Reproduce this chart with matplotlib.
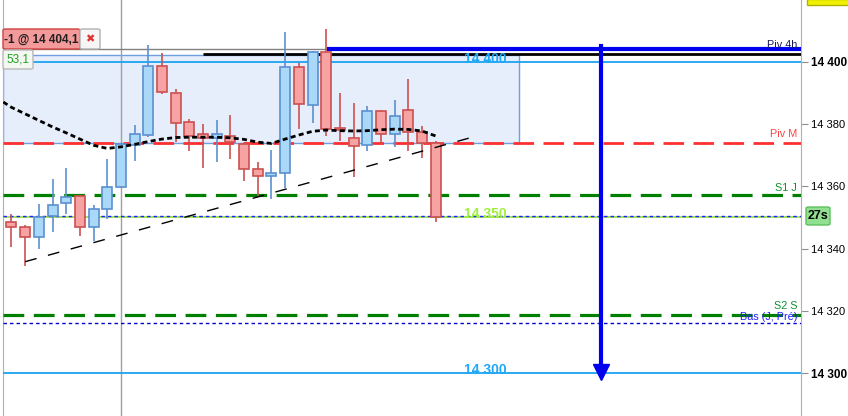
import numpy as np
import matplotlib
matplotlib.use('Agg')
import matplotlib.pyplot as plt
from matplotlib.patches import Rectangle, FancyBboxPatch
import matplotlib.transforms as mtransforms

plt.rcParams['font.family'] = ['Liberation Sans', 'DejaVu Sans']

# ============= candle data ==============================================
opens = [14348.6, 14346.8, 14343.6, 14350.6, 14354.6, 14356.8, 14346.8, 14352.6,
         14359.7, 14373.3, 14376.5, 14398.6, 14389.9, 14380.6, 14376.8, 14375.5,
         14376.1, 14373.6, 14365.5, 14363.2, 14364.2, 14398.3, 14386.1, 14403.1,
         14378.7, 14375.5, 14373.2, 14384.1, 14376.8, 14384.5, 14377.4, 14374.1]
highs = [14351.0, 14347.5, 14354.3, 14362.3, 14365.8, 14357.0, 14354.0, 14368.7,
         14374.0, 14379.7, 14405.5, 14402.8, 14391.3, 14381.7, 14380.1, 14381.4,
         14383.0, 14374.0, 14367.7, 14371.7, 14409.5, 14399.8, 14403.5, 14410.6,
         14390.0, 14386.8, 14385.9, 14384.6, 14387.8, 14394.5, 14379.3, 14374.6]
lows = [14340.6, 14334.5, 14340.0, 14345.4, 14351.1, 14344.1, 14342.5, 14349.4,
        14359.5, 14368.3, 14376.0, 14389.6, 14374.2, 14371.4, 14366.0, 14367.9,
        14368.7, 14361.8, 14357.0, 14356.0, 14359.4, 14378.4, 14380.5, 14376.2,
        14374.7, 14363.1, 14371.5, 14373.5, 14372.8, 14371.5, 14369.2, 14348.7]
closes = [14346.8, 14343.6, 14350.3, 14353.9, 14356.5, 14347.0, 14352.6, 14359.7,
          14373.6, 14376.8, 14398.6, 14390.3, 14380.3, 14376.3, 14375.5, 14376.8,
          14374.2, 14365.7, 14363.2, 14364.2, 14398.3, 14386.4, 14403.1, 14378.4,
          14378.0, 14372.9, 14384.1, 14376.8, 14382.5, 14377.4, 14374.1, 14350.3]

# moving average (dotted black)
ma_x = [-0.6] + list(range(32))
ma_vals = [14387.1, 14385.4, 14383.3, 14381.2, 14379.1, 14377.2, 14375.2, 14373.2, 14372.2,
           14372.7, 14373.5, 14374.4, 14375.2, 14375.7, 14375.8, 14375.8, 14375.8,
           14375.6, 14375.1, 14374.2, 14373.8, 14375.2, 14376.5, 14377.7, 14378.1,
           14377.9, 14377.8, 14377.9, 14378.2, 14378.4, 14378.3, 14377.8, 14376.2]

# trend line (two anchor points)
trend_x = [1.0, 34.0]
trend_y = [14335.8, 14376.2]

# levels
order_level = 14404.1
piv_4h = 14404.3
black_level = 14402.4
zone_top, zone_bottom = 14402.2, 14374.0
piv_m = 14374.0
s1_j = 14357.2
last_price = 14350.4
green_level = 14350.0
s2_s = 14318.7
bas_level = 14316.1
cyan_levels = [14400.0, 14300.0]
arrow_from, arrow_to = 14405.1, 14300.0

yticks = [14300, 14320, 14340, 14360, 14380, 14400]

# ============= figure ========================
W, H = 848, 416
fig = plt.figure(figsize=(W / 100, H / 100), dpi=100)
ax = fig.add_axes([3 / W, 0, 798 / W, 1])
ax.set_xlim(-0.62, 57.7)
ax.set_ylim(14286.2, 14419.9)

x = np.arange(len(opens))
xl, xr = ax.get_xlim()

# shaded zone
ax.add_patch(Rectangle((xl, zone_bottom), 37.1 - xl, zone_top - zone_bottom,
                       facecolor='#e6eefc', edgecolor='#6f9fe0', lw=1, zorder=1))

# vertical grid line
ax.axvline(8.0, color='#a0a0a0', lw=1, zorder=1)

# horizontal levels
ax.hlines(order_level, xl, 23.06, color='#808080', lw=1, zorder=2)
ax.hlines(piv_4h, 23.06, xr, color='#0000ee', lw=3, zorder=4)
ax.hlines(black_level, 14.0, xr, color='black', lw=2, zorder=4)
for lv in cyan_levels:
    ax.axhline(lv, color='#1aa3f0', lw=1.3, zorder=3)
ax.axhline(piv_m, color='#ff3030', lw=2, dashes=(7.4, 3.4), zorder=3)
ax.axhline(s1_j, color='#008000', lw=2.3, dashes=(6.5, 3.0), zorder=3)
ax.axhline(s2_s, color='#008000', lw=2.3, dashes=(6.5, 3.0), zorder=3)
ax.axhline(green_level, color='#90e040', lw=1.2, zorder=3)
ax.axhline(last_price, color='#2020ff', lw=1, dashes=(2.5, 2.2), zorder=3)
ax.axhline(bas_level, color='#0000cc', lw=1, dashes=(2.5, 2.2), zorder=3)

# candles
red_face, red_edge = '#f7a3a3', '#cc5050'
blue_face, blue_edge = '#a9d8f8', '#5b90cf'
for i in x:
    up = closes[i] >= opens[i]
    fc, ec = (blue_face, blue_edge) if up else (red_face, red_edge)
    ax.vlines(i, lows[i], highs[i], color=ec, lw=1.2, zorder=5)
    lo, hi = min(opens[i], closes[i]), max(opens[i], closes[i])
    ax.bar(i, max(hi - lo, 0.3), bottom=lo, width=0.73, color=fc,
           edgecolor=ec, lw=1.2, zorder=6)

# moving average and trend line
ax.plot(ma_x, ma_vals, color='black', lw=2, dashes=(1.8, 1.2), zorder=7)
ax.plot(trend_x, trend_y, color='black', lw=1, dashes=(8.5, 8.5), zorder=7)

# arrow
ax.plot([43.1, 43.1], [arrow_from, arrow_to], color='#0000ee', lw=3, zorder=8)
ax.plot(43.1, arrow_to + 0.2, marker='v', ms=11, color='#0000ee', zorder=8)

# level labels
bt = mtransforms.blended_transform_factory(ax.transAxes, ax.transData)
right_lbls = [('Piv 4h', piv_4h + 1.0, '#1a1a5a'), ('Piv M', piv_m + 2.8, '#ff4040'),
              ('S1 J', s1_j + 2.4, '#109030'), ('S2 S', s2_s + 3.0, '#109030'),
              ('Bas (J, Pré)', bas_level + 2.0, '#2020ff')]
for txt, yy, c in right_lbls:
    ax.text(0.995, yy, txt, transform=bt, ha='right', va='center', color=c,
            fontsize=7.8, zorder=9)
ax.text(34.6, 14401.0, '14 400', color='#20a8f8', fontsize=10, fontweight='bold',
        ha='center', va='center', zorder=9)
ax.text(34.6, 14351.0, '14 350', color='#a0f040', fontsize=10, fontweight='bold',
        ha='center', va='center', zorder=9)
ax.text(34.6, 14301.0, '14 300', color='#20a8f8', fontsize=10, fontweight='bold',
        ha='center', va='center', zorder=9)

# axes styling
for s in ['top', 'bottom']:
    ax.spines[s].set_visible(False)
ax.spines['left'].set_color('#b0b0b0')
ax.spines['right'].set_color('#b0b0b0')
ax.set_xticks([])
ax.yaxis.tick_right()
ax.set_yticks(yticks)
ax.set_yticklabels(['{:,}'.format(t).replace(',', ' ') for t in yticks])
ax.tick_params(axis='y', length=5, color='#909090', labelsize=8, pad=2)
for lbl, t in zip(ax.get_yticklabels(), yticks):
    if t in (14300, 14400):
        lbl.set_fontweight('bold')
        lbl.set_fontsize(8.5)

# overlays in figure pixels
def fbox(x0, y0, w, h, fc, ec):
    fig.patches.append(FancyBboxPatch((x0 / W, 1 - (y0 + h) / H), w / W, h / H,
                                      boxstyle='round,pad=0,rounding_size=0.003',
                                      transform=fig.transFigure, facecolor=fc,
                                      edgecolor=ec, lw=1, zorder=10))

fbox(3, 29, 77, 20, '#f59a9a', '#d04040')
fig.text(41.5 / W, 1 - 39.5 / H, '-1 @ 14 404,1', ha='center', va='center',
         fontsize=8.5, fontweight='bold', color='#202020', zorder=11)
fbox(80, 29, 20, 20, '#f6f6f6', '#b0b0b0')
fig.text(90 / W, 1 - 39.5 / H, '✖', ha='center', va='center', fontsize=8,
         color='#e03030', family='DejaVu Sans', zorder=11)
fbox(3, 50, 30, 19, '#f4f8f2', '#b8b8b8')
fig.text(18 / W, 1 - 59.5 / H, '53,1', ha='center', va='center', fontsize=8.5,
         color='#20a020', zorder=11)
fbox(806, 207, 24, 18, '#90e090', '#60c060')
fig.text(818 / W, 1 - 216 / H, '27s', ha='center', va='center', fontsize=9,
         fontweight='bold', color='black', zorder=11)
fig.patches.append(Rectangle((807 / W, 1 - 5 / H), 45 / W, 6 / H, transform=fig.transFigure,
                             facecolor='#f0f000', edgecolor='#b0b000', lw=1, zorder=10))

fig.savefig('out.png', dpi=100)
